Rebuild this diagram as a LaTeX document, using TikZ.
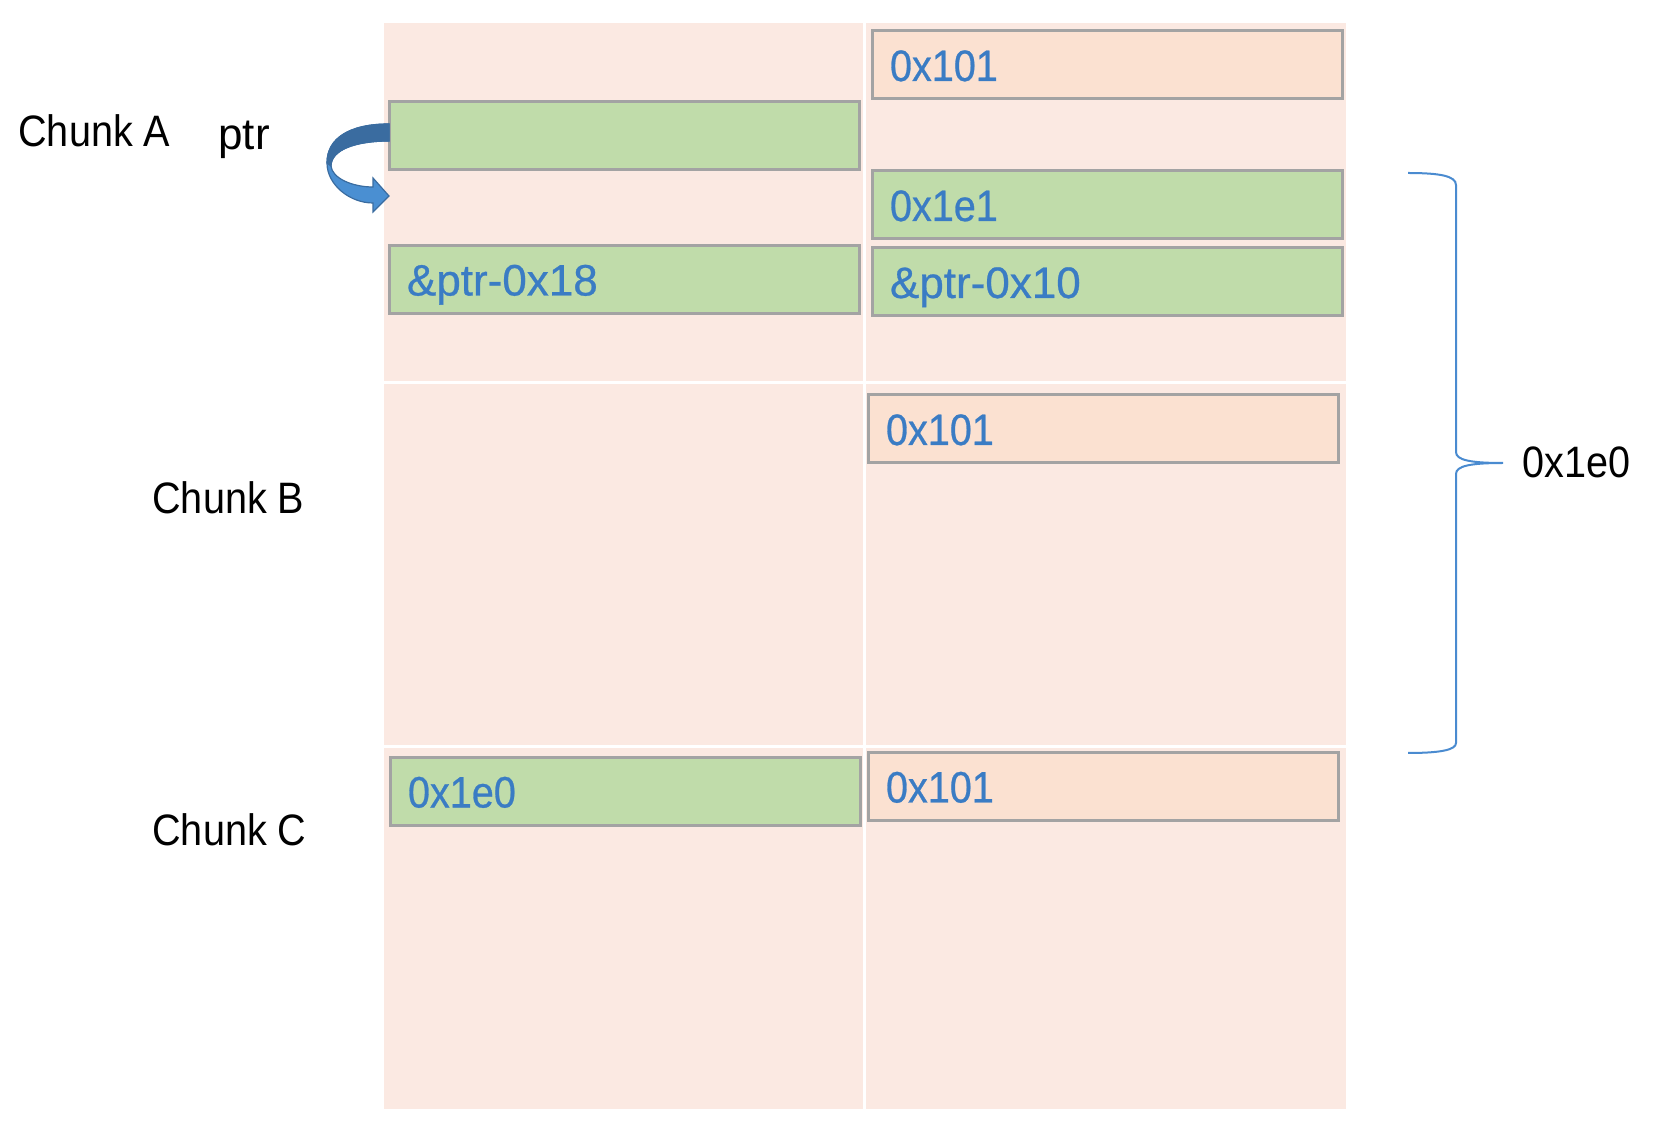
\documentclass[tikz,border=0pt]{standalone}
\usepackage{fontspec}
\setmainfont{Liberation Sans}[FakeStretch=0.9]
\newfontfamily\cellfont{Liberation Sans}[FakeStretch=0.9,FakeBold=0.6]
\newfontfamily\widecellfont{Liberation Sans}[FakeBold=0.6]
\newfontfamily\widefont{Liberation Sans}
\definecolor{heap}{HTML}{FBE9E2}
\definecolor{sizefill}{HTML}{FBE1D1}
\definecolor{ptrfill}{HTML}{C0DCAA}
\definecolor{cellgray}{HTML}{A3A3A3}
\definecolor{valblue}{HTML}{3A7CC4}
\definecolor{braceblue}{HTML}{4A8BD0}
\definecolor{arrowdark}{HTML}{3A6CA0}
\definecolor{arrowlight}{HTML}{4A8FD2}
\tikzset{
  cell/.style={draw=cellgray, line width=1.5pt, minimum height=34pt, inner xsep=9pt,
    text width=217pt, align=left, text height=16pt, text depth=0pt, text=valblue,
    font=\cellfont\fontsize{22}{26}\selectfont},
  sizecell/.style={cell, fill=sizefill},
  ptrcell/.style={cell, fill=ptrfill},
  addrcell/.style={ptrcell, font=\widecellfont\fontsize{22}{26}\selectfont},
  tag/.style={anchor=base west, inner sep=0pt, font=\fontsize{22}{26}\selectfont}
}
\begin{document}
\begin{tikzpicture}[x=0.5pt,y=-0.5pt]
\useasboundingbox (0,0) rectangle (1662,1144);

% Heap background with column and chunk separators
\fill[heap] (384,23) rectangle (1346,1109);
\draw[white,line width=1.5pt] (864,23) -- (864,1109);
\foreach \y in {383,747} {
    \draw[white,line width=1.5pt] (384,\y) -- (1346,\y);
}

% Chunk A
\node[sizecell] (asize) at (1107,65) {0x101};
\node[ptrcell] (aptr) at (624,135.5) {};
\node[ptrcell] (afake) at (1107,205) {0x1e1};
\node[addrcell] (afd) at (624,279.5) {\&ptr-0x18};
\node[addrcell] (abk) at (1107,282) {\&ptr-0x10};

% Chunk B
\node[sizecell] (bsize) at (1103,429) {0x101};

% Chunk C
\node[ptrcell] (cprev) at (625,791.5) {0x1e0};
\node[sizecell] (csize) at (1103,786.5) {0x101};

% Labels
\node[tag] (chunka) at (18,147) {Chunk A};
\node[tag,font=\widefont\fontsize{22}{26}\selectfont] (ptrlabel) at (218,150) {ptr};
\node[tag] (chunkb) at (152,514) {Chunk B};
\node[tag] (chunkc) at (152,845) {Chunk C};

% Curved arrow from ptr
\filldraw[fill=arrowlight,draw=arrowdark,line width=0.6pt]
    (389,124) .. controls (350,124) and (327,138) .. (327,163)
    .. controls (327,185) and (350,203) .. (373,203)
    -- (373,212) -- (389,196) -- (373,178) -- (373,187)
    .. controls (352,187) and (332,178) .. (331,166)
    .. controls (331,150) and (355,141) .. (389,141) -- cycle;
\filldraw[fill=arrowdark,draw=arrowdark,line width=0.6pt]
    (389,124) .. controls (350,124) and (327,138) .. (327,163)
    -- (331,166) .. controls (331,150) and (355,141) .. (389,141) -- cycle;

% Size brace
\coordinate (btop) at (1408,173);
\coordinate (btip) at (1503,463);
\coordinate (bbot) at (1408,753);
\draw[braceblue,line width=1pt]
    (btop) .. controls (1440,173) and (1456,176) .. (1456,185) -- (1456,452)
    .. controls (1456,460) and (1470,463) .. (btip)
    .. controls (1470,463) and (1456,466) .. (1456,474) -- (1456,743)
    .. controls (1456,750) and (1440,753) .. (bbot);
\node[tag] (sizelabel) at (1522,478) {0x1e0};

\end{tikzpicture}
\end{document}
